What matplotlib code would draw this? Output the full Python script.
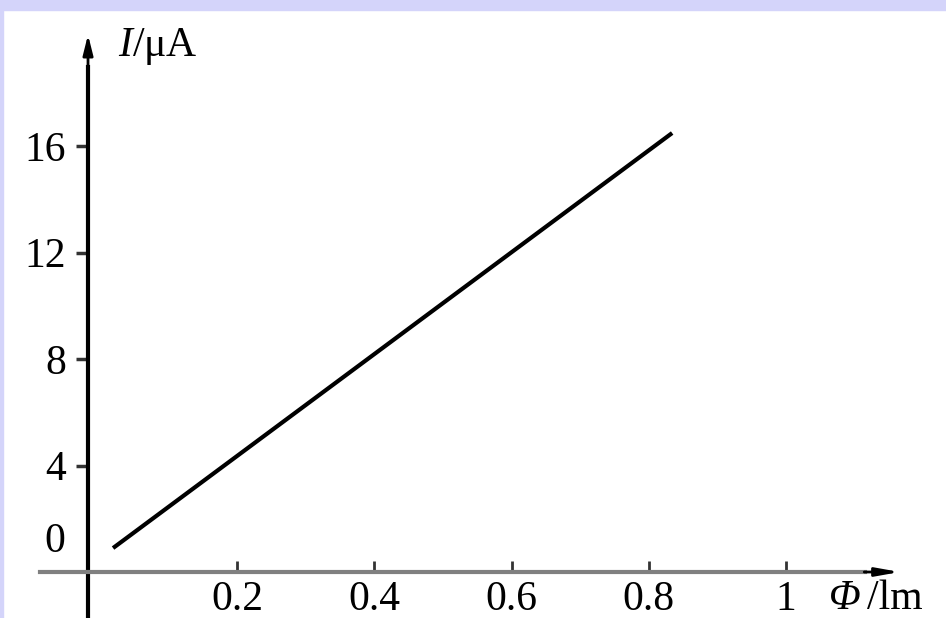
import matplotlib.pyplot as plt
from matplotlib.patches import Rectangle

plt.rcParams['font.family'] = ['Liberation Serif', 'DejaVu Serif']
plt.rcParams['mathtext.fontset'] = 'custom'
plt.rcParams['mathtext.rm'] = 'Liberation Serif'
plt.rcParams['mathtext.it'] = 'Liberation Serif:italic'

# data
flux = [0.019, 0.834]
current = [0.9, 16.5]
x_ticks = [0.2, 0.4, 0.6, 0.8, 1.0]
x_labels = ['0.2', '0.4', '0.6', '0.8', '1']
y_ticks = [4, 8, 12, 16]
y_labels = ['4', '8', '12', '16']

fig = plt.figure(figsize=(9.46, 6.18), dpi=100)
ax = fig.add_axes([0, 0, 1, 1])
ax.set_xlim(-0.1458, 1.2332)
ax.set_ylim(-1.729, 21.5)
ax.patch.set_alpha(0)

# lavender frame at top / left
fig.add_artist(Rectangle((0, 1 - 10 / 618), 1, 10 / 618, transform=fig.transFigure,
                         color='#d4d4fa', zorder=0))
fig.add_artist(Rectangle((0, 0), 3 / 946, 1, transform=fig.transFigure,
                         color='#d4d4fa', zorder=0))

ax.plot(flux, current, color='black', lw=3.0, solid_capstyle='butt')

for s in ['top', 'right']:
    ax.spines[s].set_visible(False)
ax.spines['left'].set_position(('data', -0.0175))
ax.spines['left'].set_bounds(-1.729, 19.0)
ax.spines['left'].set_linewidth(3)
ax.spines['left'].set_color('black')
ax.spines['bottom'].set_position(('data', 0))
ax.spines['bottom'].set_bounds(-0.0875, 1.115)
ax.spines['bottom'].set_linewidth(3)
ax.spines['bottom'].set_color('#808080')

ax.set_xticks(x_ticks)
ax.set_xticklabels(x_labels)
ax.set_yticks(y_ticks)
ax.set_yticklabels(y_labels)
ax.tick_params(axis='x', direction='in', length=8, width=2, color='#333333',
               pad=6, labelsize=30)
ax.tick_params(axis='y', direction='out', length=9, width=2.5, color='#333333',
               pad=7, labelsize=30)

# axis arrows
ax.annotate('', xy=(-0.0175, 20.3), xytext=(-0.0175, 18.9),
            arrowprops=dict(arrowstyle='-|>,head_length=1.2,head_width=0.3',
                            color='black', lw=2))
ax.annotate('', xy=(1.17, 0), xytext=(1.11, 0),
            arrowprops=dict(arrowstyle='-|>,head_length=1.4,head_width=0.25',
                            color='black', lw=2))

ax.text(-0.066, 1.13, '0', fontsize=30, ha='center', va='center')
ax.text(0.026, 19.74, '$I$/μA', fontsize=30, ha='left', va='center')
ax.text(1.063, -1.0, 'Φ', fontsize=30, fontstyle='italic', ha='left', va='center')
ax.text(1.118, -1.0, '/lm', fontsize=30, ha='left', va='center')

fig.savefig('out.png', dpi=100)
